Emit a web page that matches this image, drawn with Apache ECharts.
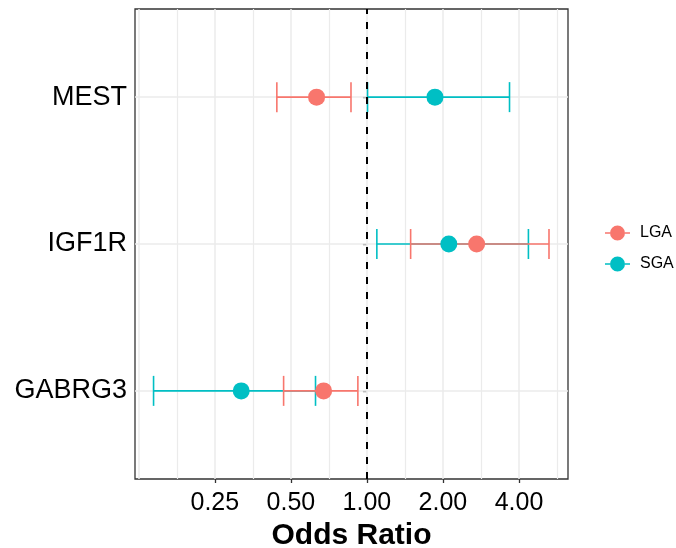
<!DOCTYPE html>
<html>
<head>
<meta charset="utf-8">
<script src="https://cdn.jsdelivr.net/npm/echarts@6/dist/echarts.min.js"></script>
<style>
  html, body { margin: 0; padding: 0; background: #ffffff; }
  #chart { width: 676px; height: 548px; }
</style>
</head>
<body>
<div id="chart"></div>
<script>
// Genes, bottom to top on the y axis
const genes = ['GABRG3', 'IGF1R', 'MEST'];

// Odds ratios with 95% confidence limits
const lgaOR   = [0.674, 2.72, 0.632];
const lgaLow  = [0.468, 1.49, 0.440];
const lgaHigh = [0.921, 5.26, 0.865];

const sgaOR   = [0.318, 2.11, 1.86];
const sgaLow  = [0.143, 1.095, 1.006];
const sgaHigh = [0.626, 4.36, 3.67];

// Labelled odds-ratio ticks
const oddsTicks = [0.25, 0.5, 1, 2, 4];

const COLORS = { LGA: '#F8766D', SGA: '#00BFC4' };
const FONT = 'Liberation Sans, Arial, sans-serif';

const log2 = Math.log2;
const tickPos = oddsTicks.map(log2);
// grid lines every half doubling step across the panel
const gridX = [];
for (let k = -6; k <= 5; k++) gridX.push(k / 2);

function errorData(low, high) {
  return genes.map((g, i) => [log2(low[i]), log2(high[i]), i + 1]);
}
function pointData(or) {
  return genes.map((g, i) => [log2(or[i]), i + 1]);
}

function renderErrorBar(params, api) {
  const p0 = api.coord([api.value(0), api.value(2)]);
  const p1 = api.coord([api.value(1), api.value(2)]);
  const half = 15;
  const style = { stroke: api.visual('color'), lineWidth: 1.6, fill: null };
  return {
    type: 'group',
    children: [
      { type: 'line', shape: { x1: p0[0], y1: p0[1], x2: p1[0], y2: p1[1] }, style },
      { type: 'line', shape: { x1: p0[0], y1: p0[1] - half, x2: p0[0], y2: p0[1] + half }, style },
      { type: 'line', shape: { x1: p1[0], y1: p1[1] - half, x2: p1[0], y2: p1[1] + half }, style }
    ]
  };
}

// legend glyph: short line with a dot in the middle
const legendIcon = 'path://M0,7.2L5,7.2L5,8.8L0,8.8Z M20,7.2L25,7.2L25,8.8L20,8.8Z M5,8A7.5,7.5 0 1 1 20,8A7.5,7.5 0 1 1 5,8Z';

const chart = echarts.init(document.getElementById('chart'), null, { renderer: 'canvas' });

chart.setOption({
  animation: false,
  backgroundColor: '#ffffff',
  grid: {
    left: 135, right: 108, top: 9, bottom: 69,
    outerBoundsMode: 'none',
    show: true, borderColor: '#333333', borderWidth: 1.3, backgroundColor: 'transparent'
  },
  legend: {
    orient: 'vertical',
    left: 605, top: 225,
    padding: 0,
    itemWidth: 25, itemHeight: 16, itemGap: 15,
    selectedMode: false,
    textStyle: { fontFamily: FONT, fontSize: 16, color: '#000', padding: [0, 0, 0, 5] },
    data: [
      { name: 'LGA', icon: legendIcon, itemStyle: { color: COLORS.LGA } },
      { name: 'SGA', icon: legendIcon, itemStyle: { color: COLORS.SGA } }
    ]
  },
  xAxis: {
    type: 'value',
    min: -3.05, max: 2.645,
    name: 'Odds Ratio',
    nameLocation: 'middle',
    nameGap: 42,
    nameTextStyle: { fontFamily: FONT, fontSize: 30, fontWeight: 'bold', color: '#000' },
    axisLine: { show: false },
    axisTick: { show: true, length: 4, customValues: tickPos, lineStyle: { color: '#333', width: 1.3 } },
    axisLabel: {
      customValues: tickPos,
      margin: 12,
      fontFamily: FONT, fontSize: 25, color: '#000',
      formatter: v => Math.pow(2, v).toFixed(2)
    },
    splitLine: { show: false }
  },
  yAxis: {
    type: 'value',
    min: 0.4, max: 3.6,
    axisLine: { show: false },
    axisTick: { show: true, length: 4, customValues: [1, 2, 3], lineStyle: { color: '#333', width: 1.3 } },
    axisLabel: {
      customValues: [1, 2, 3],
      margin: 8,
      fontFamily: FONT, fontSize: 27, color: '#000',
      formatter: v => genes[Math.round(v) - 1]
    },
    splitLine: { show: false }
  },
  series: [
    {
      // panel grid lines
      type: 'scatter', name: 'grid', data: [], silent: true, z: 1,
      markLine: {
        silent: true, symbol: 'none', label: { show: false }, animation: false, z: 1,
        data: gridX.map(v => ({
          xAxis: v,
          lineStyle: { color: '#EBEBEB', width: Number.isInteger(v) ? 1.5 : 1.2, type: 'solid' }
        })).concat([1, 2, 3].map(v => ({
          yAxis: v,
          lineStyle: { color: '#EBEBEB', width: 1.5, type: 'solid' }
        })))
      }
    },
    {
      type: 'custom', name: 'SGA', renderItem: renderErrorBar,
      itemStyle: { color: COLORS.SGA }, data: errorData(sgaLow, sgaHigh),
      encode: { x: [0, 1], y: 2 }, z: 2, silent: true
    },
    {
      type: 'custom', name: 'LGA', renderItem: renderErrorBar,
      itemStyle: { color: COLORS.LGA }, data: errorData(lgaLow, lgaHigh),
      encode: { x: [0, 1], y: 2 }, z: 3, silent: true
    },
    {
      type: 'scatter', name: 'SGA', data: pointData(sgaOR),
      symbol: 'circle', symbolSize: 17, itemStyle: { color: COLORS.SGA, opacity: 1 }, z: 4
    },
    {
      type: 'scatter', name: 'LGA', data: pointData(lgaOR),
      symbol: 'circle', symbolSize: 17, itemStyle: { color: COLORS.LGA, opacity: 1 }, z: 4
    },
    {
      // reference line at OR = 1
      type: 'scatter', name: 'ref', data: [], silent: true, z: 6,
      markLine: {
        silent: true, symbol: 'none', label: { show: false }, animation: false, z: 6,
        data: [{ xAxis: log2(1) }],
        lineStyle: { color: '#000', width: 2, type: [7, 8] }
      }
    }
  ]
});
</script>
</body>
</html>
